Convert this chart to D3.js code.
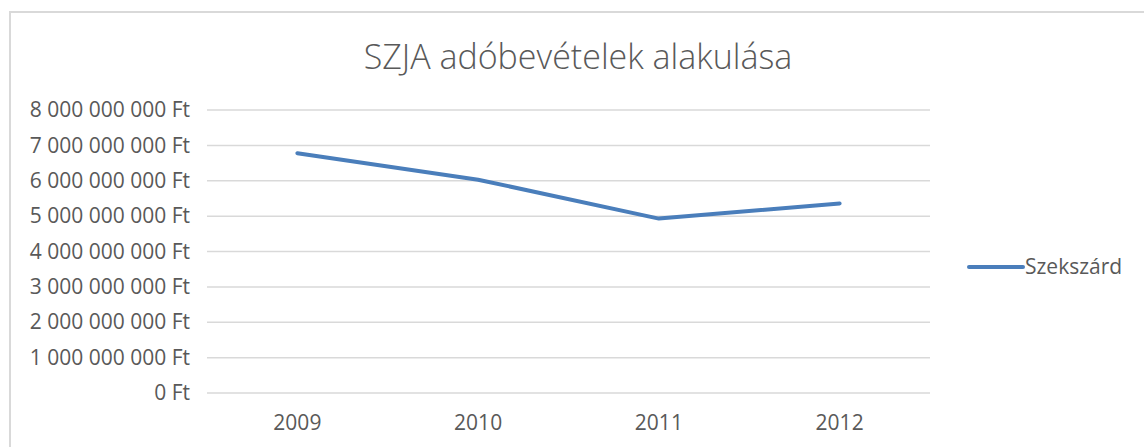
<!DOCTYPE html>
<html lang="hu">
<head>
<meta charset="utf-8" />
<title>SZJA adóbevételek alakulása</title>
<script src="https://d3js.org/d3.v7.min.js"></script>
<style>
  body { margin: 0; background: #fff; }
  text { font-family: "Open Sans", Lato, sans-serif; fill: #595959; }
</style>
</head>
<body>
<div id="chart"></div>
<script>
var years = ["2009", "2010", "2011", "2012"];
var szekszard = [6780000000, 6030000000, 4930000000, 5360000000];
var yTicks = [0, 1e9, 2e9, 3e9, 4e9, 5e9, 6e9, 7e9, 8e9];
var seriesName = "Szekszárd";
var title = "SZJA adóbevételek alakulása";

var width = 1144, height = 447;
var plotLeft = 207, plotRight = 930, plotTop = 110, plotBottom = 393;

var svg = d3.select("#chart").append("svg")
  .attr("width", width)
  .attr("height", height);

// chart frame
svg.append("rect")
  .attr("x", 10).attr("y", 12)
  .attr("width", width).attr("height", height)
  .attr("fill", "#fff")
  .attr("stroke", "#d9d9d9")
  .attr("stroke-width", 2);

var x = d3.scaleBand().domain(years).range([plotLeft, plotRight]);
var y = d3.scaleLinear().domain([0, 8e9]).range([plotBottom, plotTop]);

function fmt(v) {
  return d3.format(",")(v).replace(/,/g, " ") + " Ft";
}

// gridlines
svg.append("g").selectAll("line")
  .data(yTicks)
  .enter().append("line")
  .attr("x1", plotLeft).attr("x2", plotRight)
  .attr("y1", function(d) { return y(d); })
  .attr("y2", function(d) { return y(d); })
  .attr("stroke", "#d9d9d9")
  .attr("stroke-width", 1.5);

// y labels
var yAxis = d3.axisLeft(y).tickValues(yTicks).tickFormat(fmt).tickSize(0).tickPadding(17);
var gy = svg.append("g").attr("transform", "translate(" + plotLeft + ",0)").call(yAxis);
gy.select(".domain").remove();
gy.selectAll("text")
  .style("font-size", "21px")
  .style("font-family", "'Open Sans', sans-serif")
  .attr("fill", "#595959");

// x labels
var xAxis = d3.axisBottom(x).tickSize(0).tickPadding(22);
var gx = svg.append("g").attr("transform", "translate(0," + plotBottom + ")").call(xAxis);
gx.select(".domain").remove();
gx.selectAll("text")
  .style("font-size", "21px")
  .style("font-family", "'Open Sans', sans-serif")
  .attr("fill", "#595959");

// the line
var line = d3.line()
  .x(function(d, i) { return x(years[i]) + x.bandwidth() / 2; })
  .y(function(d) { return y(d); });

svg.append("path")
  .datum(szekszard)
  .attr("d", line)
  .attr("fill", "none")
  .attr("stroke", "#4a7ebb")
  .attr("stroke-width", 4)
  .attr("stroke-linejoin", "round")
  .attr("stroke-linecap", "round");

// title
svg.append("text")
  .attr("x", 578).attr("y", 69)
  .attr("text-anchor", "middle")
  .style("font-size", "34px")
  .style("font-weight", 300)
  .text(title);

// legend
svg.append("line")
  .attr("x1", 969).attr("x2", 1023)
  .attr("y1", 267).attr("y2", 267)
  .attr("stroke", "#4a7ebb")
  .attr("stroke-width", 4)
  .attr("stroke-linecap", "round");
svg.append("text")
  .attr("x", 1025).attr("y", 267)
  .attr("dy", "0.35em")
  .style("font-size", "21px")
  .text(seriesName);
</script>
</body>
</html>
